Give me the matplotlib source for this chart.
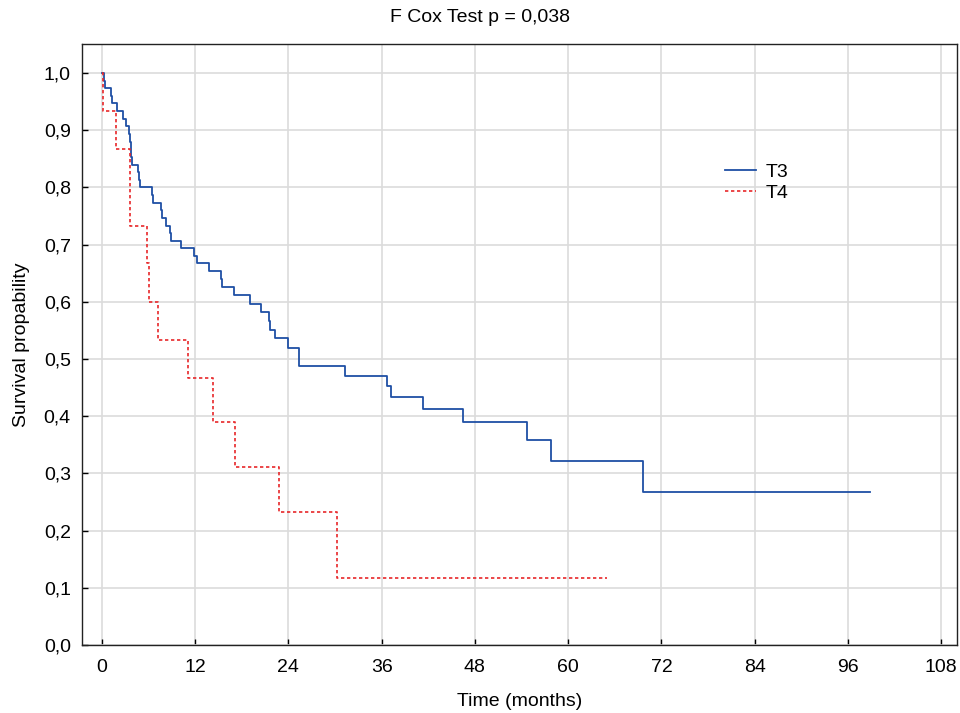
import matplotlib
matplotlib.use("Agg")
import matplotlib.pyplot as plt
from matplotlib.ticker import FuncFormatter

plt.rcParams['font.family'] = ['Liberation Sans', 'DejaVu Sans']

# T3 Kaplan-Meier steps (time in months, survival after step)
t3_times = [0.0, 0.2, 0.4, 1.16, 1.24, 1.95, 2.72, 3.05, 3.52, 3.65, 3.72, 3.8, 3.88,
            4.65, 4.78, 4.88, 6.38, 6.52, 7.57, 7.68, 8.24, 8.75, 8.84, 10.12, 11.8,
            12.19, 13.77, 15.27, 15.49, 16.99, 19.05, 20.42, 21.5, 21.62, 22.31, 23.9,
            25.38, 31.28, 36.64, 37.2, 41.28, 46.43, 54.75, 57.75, 69.68, 98.85]
t3_surv = [1.0, 0.9867, 0.9733, 0.96, 0.9467, 0.9333, 0.92, 0.9067, 0.8933, 0.88, 0.8667,
           0.8533, 0.84, 0.8267, 0.8133, 0.80, 0.7867, 0.7733, 0.76, 0.7467, 0.7333, 0.72,
           0.7067, 0.6933, 0.68, 0.667, 0.654, 0.64, 0.626, 0.612, 0.597, 0.582, 0.567,
           0.551, 0.536, 0.52, 0.487, 0.470, 0.452, 0.434, 0.413, 0.390, 0.358, 0.322,
           0.268, 0.268]

# T4 Kaplan-Meier steps
t4_times = [0.0, 0.1, 1.8, 3.6, 5.75, 6.09, 7.17, 11.11, 14.33, 17.16, 22.74, 30.29, 65.0]
t4_surv = [1.0, 0.933, 0.867, 0.733, 0.667, 0.600, 0.533, 0.467, 0.389, 0.311, 0.233,
           0.1166, 0.1166]

x_ticks = [0, 12, 24, 36, 48, 60, 72, 84, 96, 108]
y_ticks = [0.0, 0.1, 0.2, 0.3, 0.4, 0.5, 0.6, 0.7, 0.8, 0.9, 1.0]

fig = plt.figure(figsize=(9.6, 7.13), dpi=100)
ax = fig.add_axes([0.0854, 0.0954, 0.9115, 0.8429])

ax.plot(t3_times, t3_surv, drawstyle='steps-post', color='#1f4fa5', lw=1.3, label='T3')
ax.plot(t4_times, t4_surv, drawstyle='steps-post', color='#e8282a', lw=1.2,
        linestyle=(0, (2, 1.6)), label='T4')

ax.set_xlim(-2.57, 110.05)
ax.set_ylim(0, 1.0507)
ax.set_xticks(x_ticks)
ax.set_yticks(y_ticks)
ax.yaxis.set_major_formatter(FuncFormatter(lambda v, p: f"{v:.1f}".replace('.', ',')))
ax.grid(True, color='#dcdcdc', lw=1.2)
ax.set_axisbelow(True)
ax.tick_params(direction='in', length=4, width=1, labelsize=14, colors='black')
ax.tick_params(axis='x', pad=10)
ax.tick_params(axis='y', pad=8)
for s in ax.spines.values():
    s.set_color('#222222')
    s.set_linewidth(1.0)

ax.set_xlabel('Time (months)', fontsize=14, labelpad=12)
ax.set_ylabel('Survival propability', fontsize=14, labelpad=10)
fig.text(0.5, 0.975, 'F Cox Test p = 0,038', ha='center', va='center', fontsize=14)

ax.legend(loc='upper left', bbox_to_anchor=(0.726, 0.815), frameon=False, fontsize=14,
          handlelength=1.6, handletextpad=0.5, labelspacing=0.2, borderaxespad=0)

fig.savefig('out.png', dpi=100)
